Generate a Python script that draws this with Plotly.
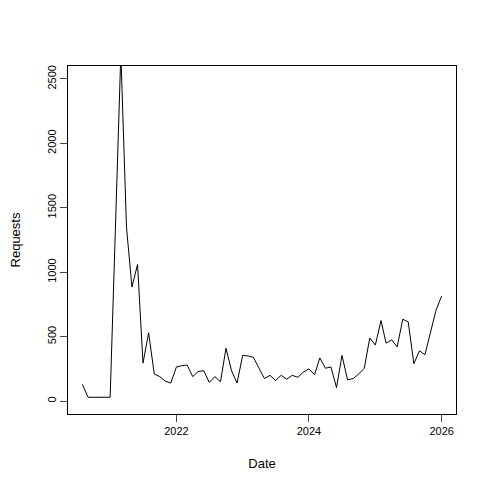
import pandas as pd
import plotly.graph_objects as go

dates = ["2020-08-01", "2020-09-01", "2021-01-01"] + [
    d.strftime("%Y-%m-%d") for d in pd.date_range("2021-03-01", "2026-01-01", freq="MS")]
requests = [130, 30, 30,
            2700, 1350, 885, 1060, 295, 530, 210, 190, 155, 140,
            265, 275, 280, 190, 230, 235, 145, 190, 150, 410, 235, 140,
            355, 350, 340, 255, 175, 200, 160, 200, 170, 200, 185, 225,
            250, 205, 335, 255, 265, 105, 355, 165, 175, 210, 255, 490,
            435, 625, 450, 475, 420, 635, 615, 290, 390, 360, 545, 705, 815]
requests = requests[:len(dates)]
ticks = ["2022-01-01", "2024-01-01", "2026-01-01"]
tick_labels = ["2022", "2024", "2026"]

t0 = pd.Timestamp(dates[0]); t1 = pd.Timestamp(dates[-1])
pad = (t1 - t0) * 0.04

fig = go.Figure(go.Scatter(x=dates, y=requests, mode="lines",
                           line=dict(color="black", width=1)))
fig.update_layout(
    width=480, height=480, plot_bgcolor="white", paper_bgcolor="white",
    margin=dict(l=60, r=32, t=58, b=74), showlegend=False,
    font=dict(family="Liberation Sans, Arial, sans-serif", size=11, color="black"),
)
fig.update_xaxes(type="date", range=[t0 - pad, t1 + pad], tickvals=ticks, ticktext=tick_labels,
                 ticks="outside", ticklen=7, showgrid=False, zeroline=False, automargin=False,
                 showline=True, linecolor="black", mirror=True, linewidth=1,
                 title=dict(text="Date", standoff=22))
fig.update_yaxes(range=[-100, 2600], tickvals=[0, 500, 1000, 1500, 2000, 2500],
                 tickangle=-90, ticks="outside", ticklen=7, showgrid=False, zeroline=False,
                 automargin=False,
                 showline=True, linecolor="black", mirror=True, linewidth=1,
                 title=dict(text="Requests", standoff=22))
fig.write_html("out.html")
